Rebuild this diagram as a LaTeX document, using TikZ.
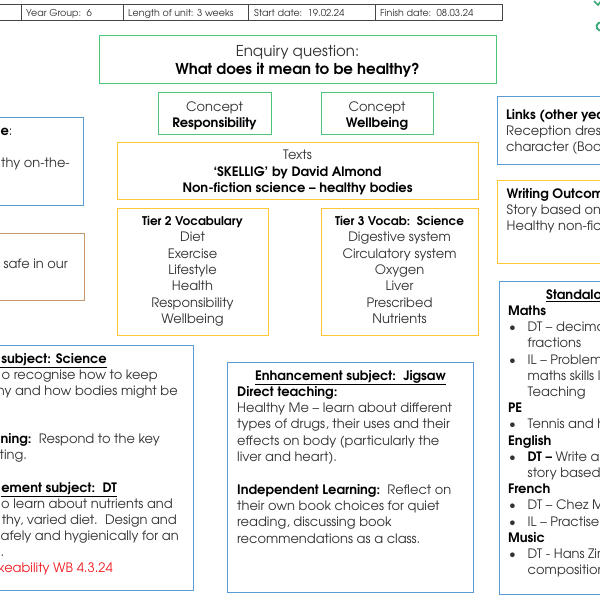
\documentclass[tikz,border=0pt]{standalone}
\usepackage{fontspec}
\setmainfont{TeX Gyre Adventor}
\definecolor{grn}{RGB}{77,196,120}
\definecolor{yel}{RGB}{255,198,55}
\definecolor{blu}{RGB}{91,155,213}
\definecolor{brn}{RGB}{196,154,108}
\definecolor{txt}{RGB}{50,50,50}
\definecolor{hdr}{RGB}{70,70,70}
\definecolor{redt}{RGB}{240,30,35}
\definecolor{logo}{RGB}{60,170,120}
\newcommand{\fbody}{\fontsize{13}{16.3}\selectfont}
\newcommand{\fhead}{\fontsize{9.5}{11}\selectfont}
\newcommand{\fenq}{\fontsize{15}{18}\selectfont}
\begin{document}
\begin{tikzpicture}[x=1pt,y=-1pt,
  every node/.style={inner sep=0pt,text=txt},
  frame/.style={draw,line width=1.4pt,anchor=north west,inner sep=0pt},
  gbox/.style={frame,draw=grn},
  ybox/.style={frame,draw=yel},
  bbox/.style={frame,draw=blu},
  nbox/.style={frame,draw=brn},
  tl/.style={anchor=base west,font=\fbody},
  tr/.style={anchor=base east,font=\fbody},
  tc/.style={anchor=base,font=\fbody},
  hd/.style={anchor=base west,font=\fhead},
  hline/.style={draw=hdr,line width=0.8pt}]
\useasboundingbox (0,0) rectangle (600,600);
\clip (0,0) rectangle (600,600);
\fill[white] (0,0) rectangle (600,600);

% header table
\node[hline,draw,anchor=north west,minimum width=512,minimum height=16.5] (hdrbox) at (-10,3.5) {};
\foreach \xx/\nm in {21/v1,123/v2,248/v3,375/v4}{
  \coordinate (\nm a) at (\xx,3.5); \coordinate (\nm b) at (\xx,20);
  \draw[hline] (\nm a) -- (\nm b);}
\node[hd] (h1) at (26,16.3) {Year Group:\ \ 6};
\node[hd] (h2) at (128,16.3) {Length of unit: 3 weeks};
\node[hd] (h3) at (254,16.3) {Start date:\ \ 19.02.24};
\node[hd] (h4) at (380,16.3) {Finish date:\ \ 08.03.24};

% logo fragment
\coordinate (lg1) at (594,1); \coordinate (lg2) at (598,5); \coordinate (lg3) at (601,1);
\draw[logo,line width=1.6pt] (lg1) -- (lg2) -- (lg3);
\coordinate (lgc) at (600.5,26.5);
\draw[logo,line width=1.8pt] (lgc) ++(60:4) arc[start angle=60,end angle=300,radius=4];

% boxes
\node[gbox,minimum width=396.5,minimum height=48] (enq) at (99,35) {};
\node[gbox,minimum width=113,minimum height=42] (c1) at (158,92) {};
\node[gbox,minimum width=112,minimum height=42] (c2) at (321,92) {};
\node[ybox,minimum width=361,minimum height=57] (texts) at (117,142) {};
\node[ybox,minimum width=151,minimum height=127] (t2) at (117,208) {};
\node[ybox,minimum width=157,minimum height=127] (t3) at (321,208) {};
\node[bbox,minimum width=103,minimum height=88] (lb1) at (-20,117) {};
\node[nbox,minimum width=104,minimum height=67] (lb2) at (-20,233) {};
\node[bbox,minimum width=213,minimum height=245] (sci) at (-20,345) {};
\node[bbox,minimum width=246,minimum height=230] (jig) at (227,362) {};
\node[bbox,minimum width=123,minimum height=68] (links) at (497,96) {};
\node[ybox,minimum width=123,minimum height=83] (wri) at (497,180) {};
\node[bbox,minimum width=121,minimum height=313] (sta) at (499,281) {};

% enquiry
\node[anchor=base,font=\fenq] (e1) at (297.5,56.5) {Enquiry question:};
\node[anchor=base,font=\fenq\bfseries,text=black] (e2) at (297.5,74) {What does it mean to be healthy?};

% concepts
\node[tc] (c1a) at (214.5,111.5) {Concept};
\node[tc,font=\fbody\bfseries,text=black] (c1b) at (214.5,127) {Responsibility};
\node[tc] (c2a) at (377,111.5) {Concept};
\node[tc,font=\fbody\bfseries,text=black] (c2b) at (377,127) {Wellbeing};

% texts
\node[tc] (x1) at (297.5,159.5) {Texts};
\node[tc,font=\fbody\bfseries,text=black] (x2) at (297.5,176) {‘SKELLIG’ by David Almond};
\node[tc,font=\fbody\bfseries,text=black] (x3) at (297.5,192) {Non-fiction science – healthy bodies};

% tier 2
\node[tc,font=\fontsize{12}{16}\selectfont\bfseries,text=black] (t2h) at (192.5,225.5) {Tier 2 Vocabulary};
\foreach \w [count=\i] in {Diet,Exercise,Lifestyle,Health,Responsibility,Wellbeing}{
  \node[tc] (t2w\i) at (192.5,225.5+16.3*\i) {\w};}
% tier 3
\node[tc,font=\fontsize{12}{16}\selectfont\bfseries,text=black] (t3h) at (399.5,225.5) {Tier 3 Vocab:\ \ Science};
\foreach \w [count=\i] in {Digestive system,Circulatory system,Oxygen,Liver,Prescribed,Nutrients}{
  \node[tc] (t3w\i) at (399.5,225.5+16.3*\i) {\w};}

% left boxes
\node[tr,font=\fbody] (l1a) at (12.7,135) {\textbf{\textcolor{black}{e}}:};
\node[tr] (l1b) at (70,167) {thy on-the-};
\node[tr] (l2a) at (68,268) {safe in our};

% science box
\node[tr,font=\fbody\bfseries,text=black] (s1) at (107,363.3) {\underline{\ subject: Science}};
\node[tr] (s2) at (158,379.4) {o recognise how to keep};
\node[tr] (s3) at (178,395.5) {hy and how bodies might be};
\node[tr] (s4) at (160,443.8) {\textbf{\textcolor{black}{ning:}}\ \ Respond to the key};
\node[tl] (s5) at (-0.5,459.9) {ting.};
\node[tr,font=\fbody\bfseries,text=black] (s6) at (117,492.1) {\underline{ement subject:\ \ DT}};
\node[tr] (s7) at (173,508.2) {o learn about nutrients and};
\node[tr] (s8) at (177,524.3) {thy, varied diet.\ \ Design and};
\node[tr] (s9) at (179,540.4) {afely and hygienically for an};
\node[tl] (s10) at (0.5,556.5) {.};
\node[tr,text=redt] (s11) at (113,572.6) {keability WB 4.3.24};

% jigsaw box
\node[tc,font=\fbody\bfseries,text=black] (j0) at (350.5,380) {\underline{Enhancement subject:\ \ Jigsaw}};
\node[tl,font=\fbody\bfseries,text=black] (j1) at (237,396.3) {Direct teaching:};
\node[tl] (j2) at (237,412.6) {Healthy Me – learn about different};
\node[tl] (j3) at (237,428.9) {types of drugs, their uses and their};
\node[tl] (j4) at (237,445.2) {effects on body (particularly the};
\node[tl] (j5) at (237,461.5) {liver and heart).};
\node[tl] (j6) at (237,494.1) {\textbf{\textcolor{black}{Independent Learning:}}\ \ Reflect on};
\node[tl] (j7) at (237,510.4) {their own book choices for quiet};
\node[tl] (j8) at (237,526.7) {reading, discussing book};
\node[tl] (j9) at (237,543) {recommendations as a class.};

% links
\node[tl,font=\fbody\bfseries,text=black] (k1) at (506,119.3) {Links (other year};
\node[tl] (k2) at (506,135.6) {Reception dress};
\node[tl] (k3) at (506,151.9) {character (Book};
% writing
\node[tl,font=\fbody\bfseries,text=black] (w1) at (506.5,198.3) {Writing Outcome};
\node[tl] (w2) at (506.5,214.6) {Story based on};
\node[tl] (w3) at (506.5,230.9) {Healthy non-fict};

% standalone
\node[tl,font=\fbody\bfseries,text=black] (g0) at (546,299.3) {\underline{Standalone}};
\node[tl,font=\fbody\bfseries,text=black] (g1) at (508,315.5) {Maths};
\node[tl] (g2b) at (509,331.7) {\textbullet};
\node[tl] (g2) at (527.5,331.7) {DT – decimals};
\node[tl] (g3) at (527.5,347.9) {fractions};
\node[tl] (g4b) at (509,364.1) {\textbullet};
\node[tl] (g4) at (527.5,364.1) {IL – Problem};
\node[tl] (g5) at (527.5,380.3) {maths skills l};
\node[tl] (g6) at (527.5,396.5) {Teaching};
\node[tl,font=\fbody\bfseries,text=black] (g7) at (508,412.7) {PE};
\node[tl] (g8b) at (509,428.9) {\textbullet};
\node[tl] (g8) at (527.5,428.9) {Tennis and h};
\node[tl,font=\fbody\bfseries,text=black] (g9) at (508,445.1) {English};
\node[tl] (g10b) at (509,461.3) {\textbullet};
\node[tl] (g10) at (527.5,461.3) {\textbf{\textcolor{black}{DT –}} Write a};
\node[tl] (g11) at (527.5,477.5) {story based};
\node[tl,font=\fbody\bfseries,text=black] (g12) at (508,493.7) {French};
\node[tl] (g13b) at (509,509.9) {\textbullet};
\node[tl] (g13) at (527.5,509.9) {DT – Chez M};
\node[tl] (g14b) at (509,526.1) {\textbullet};
\node[tl] (g14) at (527.5,526.1) {IL – Practise};
\node[tl,font=\fbody\bfseries,text=black] (g15) at (508,542.3) {Music};
\node[tl] (g16b) at (509,558.5) {\textbullet};
\node[tl] (g16) at (527.5,558.5) {DT - Hans Zim};
\node[tl] (g17) at (527.5,574.7) {composition};
\end{tikzpicture}
\end{document}
